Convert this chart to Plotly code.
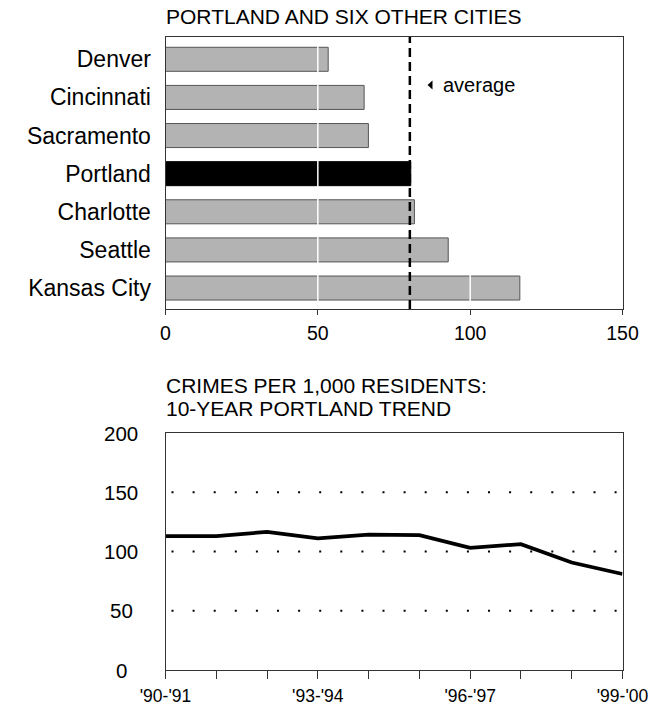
import plotly.graph_objects as go

# ---- data ----
cities = ["Denver", "Cincinnati", "Sacramento", "Portland", "Charlotte", "Seattle", "Kansas City"]
city_values = [53.4, 65.2, 66.6, 80.5, 81.7, 92.8, 116.3]
average_value = 80.2
highlight_city = "Portland"

years = ["'90-'91", "'91-'92", "'92-'93", "'93-'94", "'94-'95",
         "'95-'96", "'96-'97", "'97-'98", "'98-'99", "'99-'00"]
trend_values = [112.9, 112.9, 116.6, 111.0, 114.3, 113.8, 103.0, 106.2, 90.7, 81.0]
trend_labels = ["'90-'91", "", "", "'93-'94", "", "", "'96-'97", "", "", "'99-'00"]
trend_ticks = [0, 50, 100, 150, 200]
trend_grid = [50, 100, 150]

W, H = 659, 709
FONT = "Liberation Sans, Arial, sans-serif"

def px(x):
    return x / W

def py(y):
    return 1 - y / H

fig = go.Figure()

bar_colors = ["#000000" if c == highlight_city else "#b3b3b3" for c in cities]
bar_lines = ["#000000" if c == highlight_city else "#555555" for c in cities]
fig.add_trace(go.Bar(
    x=city_values, y=cities, orientation="h",
    marker=dict(color=bar_colors, line=dict(color=bar_lines, width=1)),
    width=0.63, xaxis="x", yaxis="y", showlegend=False, hoverinfo="x+y",
))

fig.add_trace(go.Scatter(
    x=list(range(len(years))), y=trend_values, mode="lines",
    line=dict(color="#000000", width=3.8), xaxis="x2", yaxis="y2",
    showlegend=False, text=years, hoverinfo="text+y",
))

top_dom = [py(309), py(37)]
bot_dom = [py(670), py(433)]
x_dom = [px(165.5), px(622.5)]

fig.update_layout(
    template="none",
    width=W, height=H,
    margin=dict(l=0, r=0, t=0, b=0),
    paper_bgcolor="white", plot_bgcolor="white",
    font=dict(family=FONT, color="#000000"),
    xaxis=dict(domain=x_dom, range=[0, 150], tickvals=[0, 50, 100, 150],
               automargin=False,
               showgrid=False, zeroline=False, showline=True, linecolor="#333333", linewidth=1,
               mirror=True, ticks="outside", ticklen=5, tickcolor="#333333",
               tickfont=dict(size=19.5), anchor="y", ticklabelstandoff=2),
    yaxis=dict(domain=top_dom, type="category", categoryarray=cities, categoryorder="array",
               automargin=False,
               range=[6.55, -0.585], showgrid=False, zeroline=False, showline=True,
               linecolor="#333333", linewidth=1, mirror=True, ticks="",
               tickfont=dict(size=23), anchor="x", ticklabelstandoff=9),
    xaxis2=dict(domain=x_dom, range=[0, 9], tickvals=list(range(len(years))),
                automargin=False,
                ticktext=trend_labels, showgrid=False, zeroline=False, showline=True,
                linecolor="#333333", linewidth=1, mirror=True, ticks="outside", ticklen=8,
                tickcolor="#333333", tickfont=dict(size=17.5), anchor="y2", ticklabelstandoff=2),
    yaxis2=dict(domain=bot_dom, range=[0, 200], tickvals=trend_ticks,
                automargin=False, showticklabels=False,
                showgrid=False, zeroline=False, showline=True, linecolor="#333333",
                linewidth=1, mirror=True, ticks="", anchor="x2"),
)

# centred y tick labels of the trend chart
for v in trend_ticks:
    fig.add_annotation(x=px(121), y=v, xref="paper", yref="y2", text=str(v), showarrow=False,
                       xanchor="center", yanchor="middle", font=dict(size=20.5))

# sparse dotted gridlines of the trend chart
for v in trend_grid:
    fig.add_shape(type="line", xref="x2 domain", yref="y2", x0=6 / 457, x1=1, y0=v, y1=v,
                  line=dict(color="#000000", width=2, dash="2px,19.1px"), layer="below")

# white gridlines drawn over the bars
for v in [50, 100]:
    fig.add_shape(type="line", xref="x", yref="paper", x0=v, x1=v, y0=top_dom[0], y1=top_dom[1],
                  line=dict(color="white", width=1.5), layer="above")

# average dashed line
fig.add_shape(type="line", xref="x", yref="paper", x0=average_value, x1=average_value,
              y0=top_dom[0], y1=top_dom[1], line=dict(color="#000000", width=2.5, dash="9px,5px"),
              layer="above")

# average marker + label
tx, ty = 430, 85
fig.add_shape(type="path", xref="paper", yref="paper",
              path=f"M {px(tx-2.5)} {py(ty)} L {px(tx+2.5)} {py(ty-4.5)} L {px(tx+2.5)} {py(ty+4.5)} Z",
              fillcolor="#000000", line=dict(width=0))
fig.add_annotation(x=px(441), y=py(85), xref="paper", yref="paper", text="average",
                   showarrow=False, xanchor="left", yanchor="middle", font=dict(size=20))

# titles
fig.add_annotation(x=px(164), y=py(17), xref="paper", yref="paper",
                   text="PORTLAND AND SIX OTHER CITIES", showarrow=False,
                   xanchor="left", yanchor="middle", font=dict(size=21))
fig.add_annotation(x=px(164), y=py(385), xref="paper", yref="paper",
                   text="CRIMES PER 1,000 RESIDENTS:", showarrow=False,
                   xanchor="left", yanchor="middle", font=dict(size=21))
fig.add_annotation(x=px(164), y=py(408), xref="paper", yref="paper",
                   text="10-YEAR PORTLAND TREND", showarrow=False,
                   xanchor="left", yanchor="middle", font=dict(size=21))

fig.write_html("out.html", config={"displayModeBar": False},
               post_script="document.body.style.margin='0px';document.body.style.overflow='hidden';")
